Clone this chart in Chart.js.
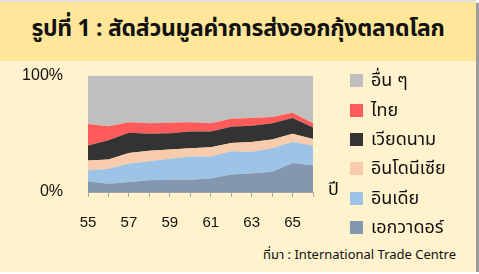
<!DOCTYPE html>
<html>
<head>
<meta charset="utf-8">
<script src="https://cdn.jsdelivr.net/npm/chart.js@4.4.0/dist/chart.umd.min.js"></script>
<style>
  body { margin: 0; background: #fff; }
  .card {
    position: relative; width: 476px; height: 270px;
    background: #FFF2CC; border-top: 2px solid #e2e2e2;
    box-shadow: 3px 3px 1px #9c9c9c;
    font-family: "Noto Sans Thai", "Noto Sans", "DejaVu Sans", sans-serif;
  }
  .title {
    position: absolute; left: 0; top: 0; width: 476px; height: 59px;
    background: #FFE699; text-align: center; line-height: 54px;
    font-size: 23px; font-weight: bold; color: #111; letter-spacing: -0.3px;
  }
  #wrap { position: absolute; left: 0; top: 39px; width: 330px; height: 201px; }
  .legend { position: absolute; left: 350px; top: 64px; }
  .legend div { height: 29.4px; display: flex; align-items: center; font-size: 18px; color: #111; }
  .legend span { display: inline-block; width: 13px; height: 13px; margin-right: 8px; }
  .yearLbl { position: absolute; left: 328px; top: 174px; font-size: 18px; color: #111; }
  .source { position: absolute; right: 20px; top: 243px; font-size: 13px; color: #111; }
</style>
</head>
<body>
<div class="card">
  <div class="title">รูปที่ 1 : สัดส่วนมูลค่าการส่งออกกุ้งตลาดโลก</div>
  <div id="wrap"><canvas id="shrimpChart"></canvas></div>
  <div class="yearLbl">ปี</div>
  <div class="legend" id="legend"></div>
  <div class="source">ที่มา : International Trade Centre</div>
</div>
<script>
// years (B.E. 2555-2566, short form)
const years = ['55', '56', '57', '58', '59', '60', '61', '62', '63', '64', '65', '66'];

// export value shares, %
const ecuador   = [9, 7, 8.5, 10, 10.5, 10.5, 11.5, 15, 16, 17.5, 25, 23];
const india     = [9.5, 13, 16, 16.5, 18, 20, 19, 20, 18.5, 20, 18, 17];
const indonesia = [8.5, 8, 9, 9, 8, 7, 8, 7, 8.5, 7.5, 7, 5.5];
const vietnam   = [13, 16.5, 17.5, 14.5, 14, 14.5, 13.5, 14, 14, 14, 13.5, 10];
const thailand  = [18.5, 12, 9, 9, 9, 8, 7, 7, 6.5, 5.5, 4.5, 3.5];
const others    = [41.5, 43.5, 40, 41, 40.5, 40, 41, 37, 36.5, 35.5, 32, 41];

const seriesNames  = ['เอกวาดอร์', 'อินเดีย', 'อินโดนีเซีย', 'เวียดนาม', 'ไทย', 'อื่น ๆ'];
const seriesValues = [ecuador, india, indonesia, vietnam, thailand, others];
const seriesColours = ['#8497B0', '#9DC3E6', '#F8CBAD', '#333333', '#FF5B5B', '#BFBFBF'];

const datasets = seriesNames.map((name, i) => ({
    label: name,
    data: seriesValues[i],
    backgroundColor: seriesColours[i],
    borderWidth: 0,
    pointRadius: 0,
    tension: 0,
    fill: i === 0 ? 'origin' : '-1'
}));

new Chart('shrimpChart', {
    type: 'line',
    data: { labels: years, datasets: datasets },
    options: {
        responsive: true,
        maintainAspectRatio: false,
        animation: false,
        layout: { padding: { top: 16, right: 16, bottom: 0, left: 0 } },
        plugins: { legend: { display: false }, tooltip: { enabled: false } },
        scales: {
            x: {
                offset: false,
                grid: { drawOnChartArea: false, drawTicks: true, tickLength: 5, color: '#A6A6A6' },
                border: { color: '#A6A6A6', width: 1 },
                ticks: {
                    autoSkip: false, maxRotation: 0, padding: 17,
                    color: '#111', font: { family: 'Liberation Sans', size: 15 },
                    callback: (v, i) => i % 2 === 0 ? years[i] : ''
                },
                afterFit: s => { s.height = 50; }
            },
            y: {
                stacked: true, min: 0, max: 100,
                grid: { display: false, drawTicks: false },
                border: { display: false },
                ticks: {
                    stepSize: 100, padding: 25,
                    color: '#111', font: { family: 'Liberation Sans', size: 16 },
                    callback: v => v + '%'
                },
                afterFit: s => { s.width = 88; }
            }
        }
    }
});

// legend, reversed like the original
const legendBox = document.getElementById('legend');
for (let i = seriesNames.length - 1; i >= 0; i--) {
    const row = document.createElement('div');
    row.innerHTML = `<span style="background:${seriesColours[i]}"></span>${seriesNames[i]}`;
    legendBox.appendChild(row);
}
</script>
</body>
</html>
